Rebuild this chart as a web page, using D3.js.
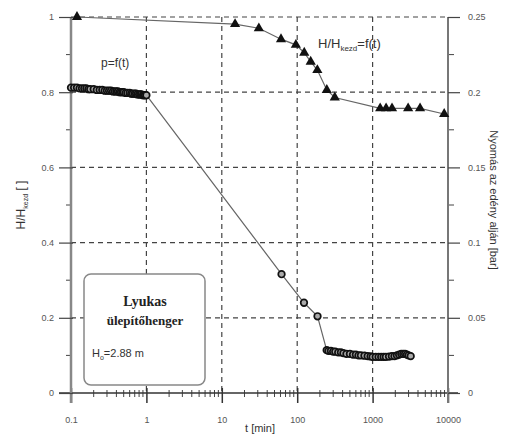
<!DOCTYPE html>
<html>
<head>
<meta charset="utf-8">
<script src="https://cdn.jsdelivr.net/npm/d3@7"></script>
<style>
  body { margin: 0; background: #fff; }
  svg { display: block; font-family: 'Liberation Sans', Arial, sans-serif; }
  .tick text { fill: #555; font-size: 9px; }
  .grid line { stroke: #444; stroke-dasharray: 5 4; stroke-width: 1.2; }
</style>
</head>
<body>
<div id="chart"></div>
<script>
// H/H_kezd = f(t), left axis
const levelT = [0.12, 15, 31, 61, 96, 124, 151, 185, 247, 315, 1260, 1510, 1810, 2960, 4260, 8900];
const levelRatio = [1.0, 0.981, 0.970, 0.941, 0.926, 0.905, 0.881, 0.859, 0.806, 0.786, 0.757, 0.757, 0.757, 0.757, 0.757, 0.742];

// p = f(t), right axis [bar]
const pressureT = [0.1, 0.11, 0.12, 0.13, 0.14, 0.15, 0.16, 0.17, 0.18, 0.2, 0.22, 0.24, 0.26, 0.28, 0.3, 0.32, 0.34,
  0.36, 0.38, 0.4, 0.42, 0.44, 0.46, 0.48, 0.5, 0.53, 0.56, 0.6, 0.63, 0.66, 0.7, 0.73, 0.76, 0.8, 0.83, 0.86,
  0.9, 0.93, 0.96, 1.0,
  62, 123, 186, 246,
  260, 280, 300, 320, 350, 380, 410, 450, 500, 550, 600, 650, 700, 780, 860, 940, 1000, 1100, 1200, 1300,
  1400, 1500, 1650, 1800, 1950, 2100, 2250, 2400, 2550, 2700, 2850, 3000, 3200];
const pressureBar = [0.203, 0.203, 0.203, 0.2025, 0.2025, 0.2025, 0.2025, 0.202, 0.202, 0.202, 0.2015, 0.2015, 0.2015, 0.201, 0.201, 0.201, 0.201,
  0.2005, 0.2005, 0.2005, 0.2005, 0.2, 0.2, 0.2, 0.2, 0.1995, 0.1995, 0.1995, 0.199, 0.199, 0.199, 0.199, 0.1985, 0.1985, 0.1985, 0.1985,
  0.198, 0.198, 0.198, 0.198,
  0.079, 0.060, 0.051, 0.0285,
  0.028, 0.028, 0.0275, 0.0275, 0.027, 0.027, 0.0265, 0.026, 0.026, 0.0255, 0.0255, 0.025, 0.025, 0.0248, 0.0245, 0.0243, 0.024, 0.024, 0.024, 0.024,
  0.024, 0.024, 0.0242, 0.0245, 0.0245, 0.025, 0.0255, 0.026, 0.026, 0.026, 0.0255, 0.025, 0.0245];

const xTicks = [0.1, 1, 10, 100, 1000, 10000];
const leftTicks = [0, 0.2, 0.4, 0.6, 0.8, 1];
const rightTicks = [0, 0.05, 0.1, 0.15, 0.2, 0.25];

const width = 507, height = 441;
const plot = { left: 71, right: 448, top: 17, bottom: 393 };

const svg = d3.select('#chart').append('svg')
  .attr('width', width).attr('height', height);

const x = d3.scaleLog().domain([0.1, 10000]).range([plot.left, plot.right]);
const yL = d3.scaleLinear().domain([0, 1]).range([plot.bottom, plot.top]);
const yR = d3.scaleLinear().domain([0, 0.25]).range([plot.bottom, plot.top]);

// grid
const grid = svg.append('g').attr('class', 'grid');
grid.selectAll('line.h').data(leftTicks.filter(d => d > 0)).join('line')
  .attr('x1', plot.left).attr('x2', plot.right)
  .attr('y1', d => yL(d)).attr('y2', d => yL(d));
grid.selectAll('line.v').data(xTicks.slice(1, -1)).join('line')
  .attr('y1', plot.top).attr('y2', plot.bottom)
  .attr('x1', d => x(d)).attr('x2', d => x(d));

// minor ticks
const minorX = [];
for (let dec = 0.1; dec < 10000; dec *= 10) {
  for (let k = 2; k <= 9; k++) minorX.push(dec * k);
}
const minors = svg.append('g').attr('stroke', '#444').attr('stroke-width', 1);
minors.selectAll('line.mx').data(minorX).join('line')
  .attr('x1', d => x(d)).attr('x2', d => x(d))
  .attr('y1', plot.bottom - 3).attr('y2', plot.bottom + 4);
minors.selectAll('line.ml').data([0.1, 0.3, 0.5, 0.7, 0.9]).join('line')
  .attr('x1', plot.left - 5).attr('x2', plot.left)
  .attr('y1', d => yL(d)).attr('y2', d => yL(d));
minors.selectAll('line.mr').data([0.025, 0.075, 0.125, 0.175, 0.225]).join('line')
  .attr('x1', plot.right).attr('x2', plot.right + 6)
  .attr('y1', d => yR(d)).attr('y2', d => yR(d));

// axes
const xAxis = svg.append('g')
  .attr('transform', `translate(0,${plot.bottom})`)
  .call(d3.axisBottom(x).tickValues(xTicks).tickFormat(d3.format('~g')).tickSize(10).tickPadding(14));
xAxis.selectAll('.tick line').attr('y1', -5).attr('stroke', '#333').attr('stroke-width', 1.5);
xAxis.select('.domain').attr('d', `M${plot.left - 12},0H${plot.right + 10}`)
  .attr('stroke', '#333').attr('stroke-width', 1.5);

const leftAxis = svg.append('g')
  .attr('transform', `translate(${plot.left},0)`)
  .call(d3.axisLeft(yL).tickValues(leftTicks).tickFormat(d3.format('~g')).tickSize(12).tickPadding(5));
leftAxis.selectAll('.tick line').attr('x2', -12).attr('x1', 2).attr('stroke', '#444').attr('stroke-width', 1.2);
leftAxis.select('.domain').attr('d', `M0,${plot.top}V${plot.bottom + 10}`)
  .attr('stroke', '#888').attr('stroke-width', 2.5);

const rightAxis = svg.append('g')
  .attr('transform', `translate(${plot.right},0)`)
  .call(d3.axisRight(yR).tickValues(rightTicks).tickFormat(d3.format('~g')).tickSize(12).tickPadding(8));
rightAxis.selectAll('.tick line').attr('stroke', '#444').attr('stroke-width', 1.2);
rightAxis.select('.domain').attr('d', `M0,${plot.top}V${plot.bottom + 10}`)
  .attr('stroke', '#777').attr('stroke-width', 2);

// series lines
const levelData = levelT.map((t, i) => ({ t, v: levelRatio[i] }));
const pressureData = pressureT.map((t, i) => ({ t, v: pressureBar[i] }));

svg.append('path').datum(levelData)
  .attr('fill', 'none').attr('stroke', '#666').attr('stroke-width', 1.2)
  .attr('d', d3.line().x(d => x(d.t)).y(d => yL(d.v)));
svg.append('path').datum(pressureData)
  .attr('fill', 'none').attr('stroke', '#666').attr('stroke-width', 1.2)
  .attr('d', d3.line().x(d => x(d.t)).y(d => yR(d.v)));

// markers
const tri = d3.symbol().type(d3.symbolTriangle).size(45);
svg.append('g').selectAll('path').data(levelData).join('path')
  .attr('d', tri)
  .attr('transform', d => `translate(${x(d.t)},${yL(d.v)})`)
  .attr('fill', '#111');

svg.append('g').selectAll('circle').data(pressureData).join('circle')
  .attr('cx', d => x(d.t)).attr('cy', d => yR(d.v)).attr('r', 3.3)
  .attr('fill', '#aaa').attr('stroke', '#111').attr('stroke-width', 1.7);

// annotations
svg.append('text').attr('x', 101).attr('y', 67)
  .attr('font-size', 12).attr('fill', '#333').text('p=f(t)');
const hLabel = svg.append('text').attr('x', 318).attr('y', 48)
  .attr('font-size', 13).attr('fill', '#333');
hLabel.append('tspan').text('H/H');
hLabel.append('tspan').attr('font-size', 8).attr('dy', 3).text('kezd');
hLabel.append('tspan').attr('dy', -3).text('=f(t)');

// axis titles
const yTitle = svg.append('text')
  .attr('transform', 'translate(25,205) rotate(-90)')
  .attr('text-anchor', 'middle').attr('font-size', 12).attr('fill', '#333');
yTitle.append('tspan').text('H/H');
yTitle.append('tspan').attr('font-size', 7).attr('dy', 3).text('kezd');
yTitle.append('tspan').attr('dy', -3).text(' [ ]');

svg.append('text')
  .attr('transform', 'translate(490,200) rotate(90)')
  .attr('text-anchor', 'middle').attr('font-size', 11).attr('fill', '#333')
  .text('Nyomás az edény alján [bar]');

svg.append('text').attr('x', 260).attr('y', 432)
  .attr('text-anchor', 'middle').attr('font-size', 11).attr('fill', '#333')
  .text('t [min]');

// info box
const box = svg.append('g');
box.append('rect').attr('x', 84).attr('y', 274).attr('width', 121).attr('height', 111)
  .attr('rx', 7).attr('fill', '#fff').attr('stroke', '#888').attr('stroke-width', 1.5);
box.append('text').attr('x', 145).attr('y', 306).attr('text-anchor', 'middle')
  .attr('font-family', "'Liberation Serif', serif").attr('font-weight', 'bold')
  .attr('font-size', 14).attr('fill', '#222').text('Lyukas');
box.append('text').attr('x', 145).attr('y', 325).attr('text-anchor', 'middle')
  .attr('font-family', "'Liberation Serif', serif").attr('font-weight', 'bold')
  .attr('font-size', 13).attr('fill', '#222').text('ülepítőhenger');
const hText = box.append('text').attr('x', 92).attr('y', 357)
  .attr('font-size', 11).attr('fill', '#333');
hText.append('tspan').text('H');
hText.append('tspan').attr('font-size', 7).attr('dy', 3).text('o');
hText.append('tspan').attr('dy', -3).text('=2.88 m');
</script>
</body>
</html>
